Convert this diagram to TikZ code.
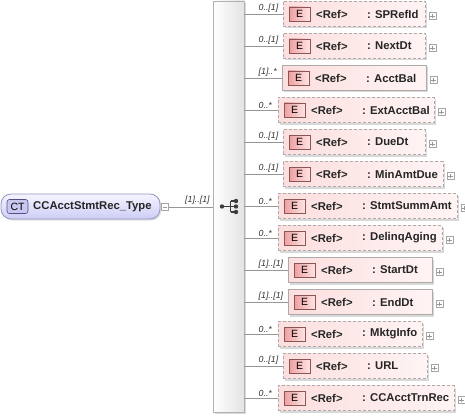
\documentclass[tikz,border=0pt]{standalone}
\usepackage{fontspec}
\setmainfont{Liberation Sans}
\usetikzlibrary{shadows}
\definecolor{boxpinkL}{RGB}{252,222,222}
\definecolor{boxpinkR}{RGB}{255,244,244}
\definecolor{boxborder}{RGB}{175,170,170}
\definecolor{eiconL}{RGB}{238,160,160}
\definecolor{eiconR}{RGB}{255,228,228}
\definecolor{eborder}{RGB}{140,85,85}
\definecolor{ctfillT}{RGB}{245,245,255}
\definecolor{ctfillB}{RGB}{205,205,245}
\definecolor{ctborder}{RGB}{150,150,190}
\definecolor{cticon}{RGB}{200,200,240}
\definecolor{cticonborder}{RGB}{80,80,130}
\definecolor{connc}{RGB}{150,150,150}
\definecolor{iconc}{RGB}{60,60,60}
\tikzset{
  refbox/.style={draw=boxborder, line width=0.8pt, dash pattern=on 3pt off 2pt,
    left color=boxpinkL, right color=boxpinkR, minimum height=25pt, inner sep=0pt,
    drop shadow={shadow xshift=2pt, shadow yshift=-2pt, fill=black!15, opacity=1}},
  solidbox/.style={dash pattern=on 1000pt off 0pt},
  dashbox/.style={},
  eicon/.style={draw=eborder, line width=0.6pt, left color=eiconL, right color=eiconR,
    minimum width=21pt, minimum height=14pt, inner sep=0pt, font=\fontsize{10.5}{12}\selectfont},
  reftxt/.style={inner sep=0pt, font=\fontsize{11.3}{13}\selectfont\bfseries, text=black!85},
  mult/.style={inner sep=0pt, font=\fontsize{8.8}{10}\selectfont\itshape, text=black!80},
  conn/.style={draw=connc, line width=0.7pt},
  plusbox/.style={draw=gray!70, fill=white, line width=0.5pt, minimum width=7pt, minimum height=7pt, inner sep=0pt},
  plussign/.style={draw=gray!80, line width=0.5pt},
  dot/.style={circle, fill=iconc, inner sep=0pt, minimum size=4.4pt},
}
\newcommand\refrow[7]{%
  \node[refbox,#4,minimum width=#3-#2, anchor=west] (r#1) at (#2,#7) {};
  \node[eicon] (e#1) at ([xshift=16.5pt]r#1.west) {E};
  \node[reftxt, anchor=west] (f#1) at ([xshift=33pt]r#1.west) {<Ref>};
  \node[reftxt, anchor=west] (n#1) at ([xshift=84pt]r#1.west) {: #6};
  \node[plusbox] (p#1) at ([xshift=6.5pt,yshift=-2pt]r#1.east) {};
  \draw[plussign] ([xshift=1.5pt]p#1.west) -- ([xshift=-1.5pt]p#1.east)
                  ([yshift=-1.5pt]p#1.north) -- ([yshift=1.5pt]p#1.south);
  \draw[conn] (bar.east |- r#1.west) -- (r#1.west);
  \node[mult, anchor=south west] (m#1) at (258.5,#7-1.5) {#5};
}
\begin{document}
\begin{tikzpicture}[x=1pt,y=-1pt]
\useasboundingbox (0,0) rectangle (465,417);
% sequence bar
\node[draw=gray!60, line width=0.6pt, left color=white, right color=gray!22,
  minimum width=31pt, minimum height=411pt, inner sep=0pt,
  drop shadow={shadow xshift=2pt, shadow yshift=-2pt, fill=black!15, opacity=1}]
  (bar) at (228.5,206.5) {};
% sequence icon
\node[dot] (s0) at (222,206.5) {};
\coordinate (sj) at (230.5,206.5);
\node[dot] (s1) at (236,201) {};
\node[dot] (s2) at (236,206.5) {};
\node[dot] (s3) at (236,212) {};
\draw[iconc, line width=1.2pt] (s0) -- (sj) (sj |- s1) -- (sj |- s3)
  (sj |- s1) -- (s1) (sj) -- (s2) (sj |- s3) -- (s3);
% CT node
\node[draw=ctborder, line width=0.8pt, rounded corners=10pt, top color=ctfillT, bottom color=ctfillB,
  minimum width=159pt, minimum height=25pt, inner sep=0pt,
  drop shadow={shadow xshift=1.5pt, shadow yshift=-1.5pt, fill=black!12, opacity=1}]
  (ct) at (80.5,206.5) {};
\node[draw=cticonborder, fill=cticon, rounded corners=2.5pt, line width=0.6pt,
  minimum width=21pt, minimum height=14pt, inner sep=0pt, font=\fontsize{10.5}{12}\selectfont]
  (cti) at (17.5,206.5) {CT};
\node[reftxt, anchor=west] (ctn) at (33,206.5) {CCAcctStmtRec\_Type};
\node[plusbox] (ctm) at (165,207) {};
\draw[plussign] ([xshift=1.5pt]ctm.west) -- ([xshift=-1.5pt]ctm.east);
\draw[conn] (ctm.east) -- (bar.west |- ctm.east);
\node[mult, anchor=south west] (ctmult) at (185,205) {[1]..[1]};
% rows
\refrow{1}{283}{425}{dashbox}{0..[1]}{SPRefId}{14}
\refrow{2}{283}{425}{dashbox}{0..[1]}{NextDt}{46}
\refrow{3}{282}{426}{solidbox}{[1]..*}{AcctBal}{78}
\refrow{4}{278}{434}{dashbox}{0..*}{ExtAcctBal}{110}
\refrow{5}{283}{425}{dashbox}{0..[1]}{DueDt}{142}
\refrow{6}{283}{443}{dashbox}{0..[1]}{MinAmtDue}{174}
\refrow{7}{278}{457}{dashbox}{0..*}{StmtSummAmt}{206}
\refrow{8}{278}{442}{dashbox}{0..*}{DelinqAging}{238}
\refrow{9}{288}{432}{solidbox}{[1]..[1]}{StartDt}{270}
\refrow{10}{288}{432}{solidbox}{[1]..[1]}{EndDt}{302}
\refrow{11}{278}{422}{dashbox}{0..*}{MktgInfo}{334}
\refrow{12}{283}{427}{dashbox}{0..[1]}{URL}{366}
\refrow{13}{278}{454}{dashbox}{0..*}{CCAcctTrnRec}{398}
\end{tikzpicture}
\end{document}
